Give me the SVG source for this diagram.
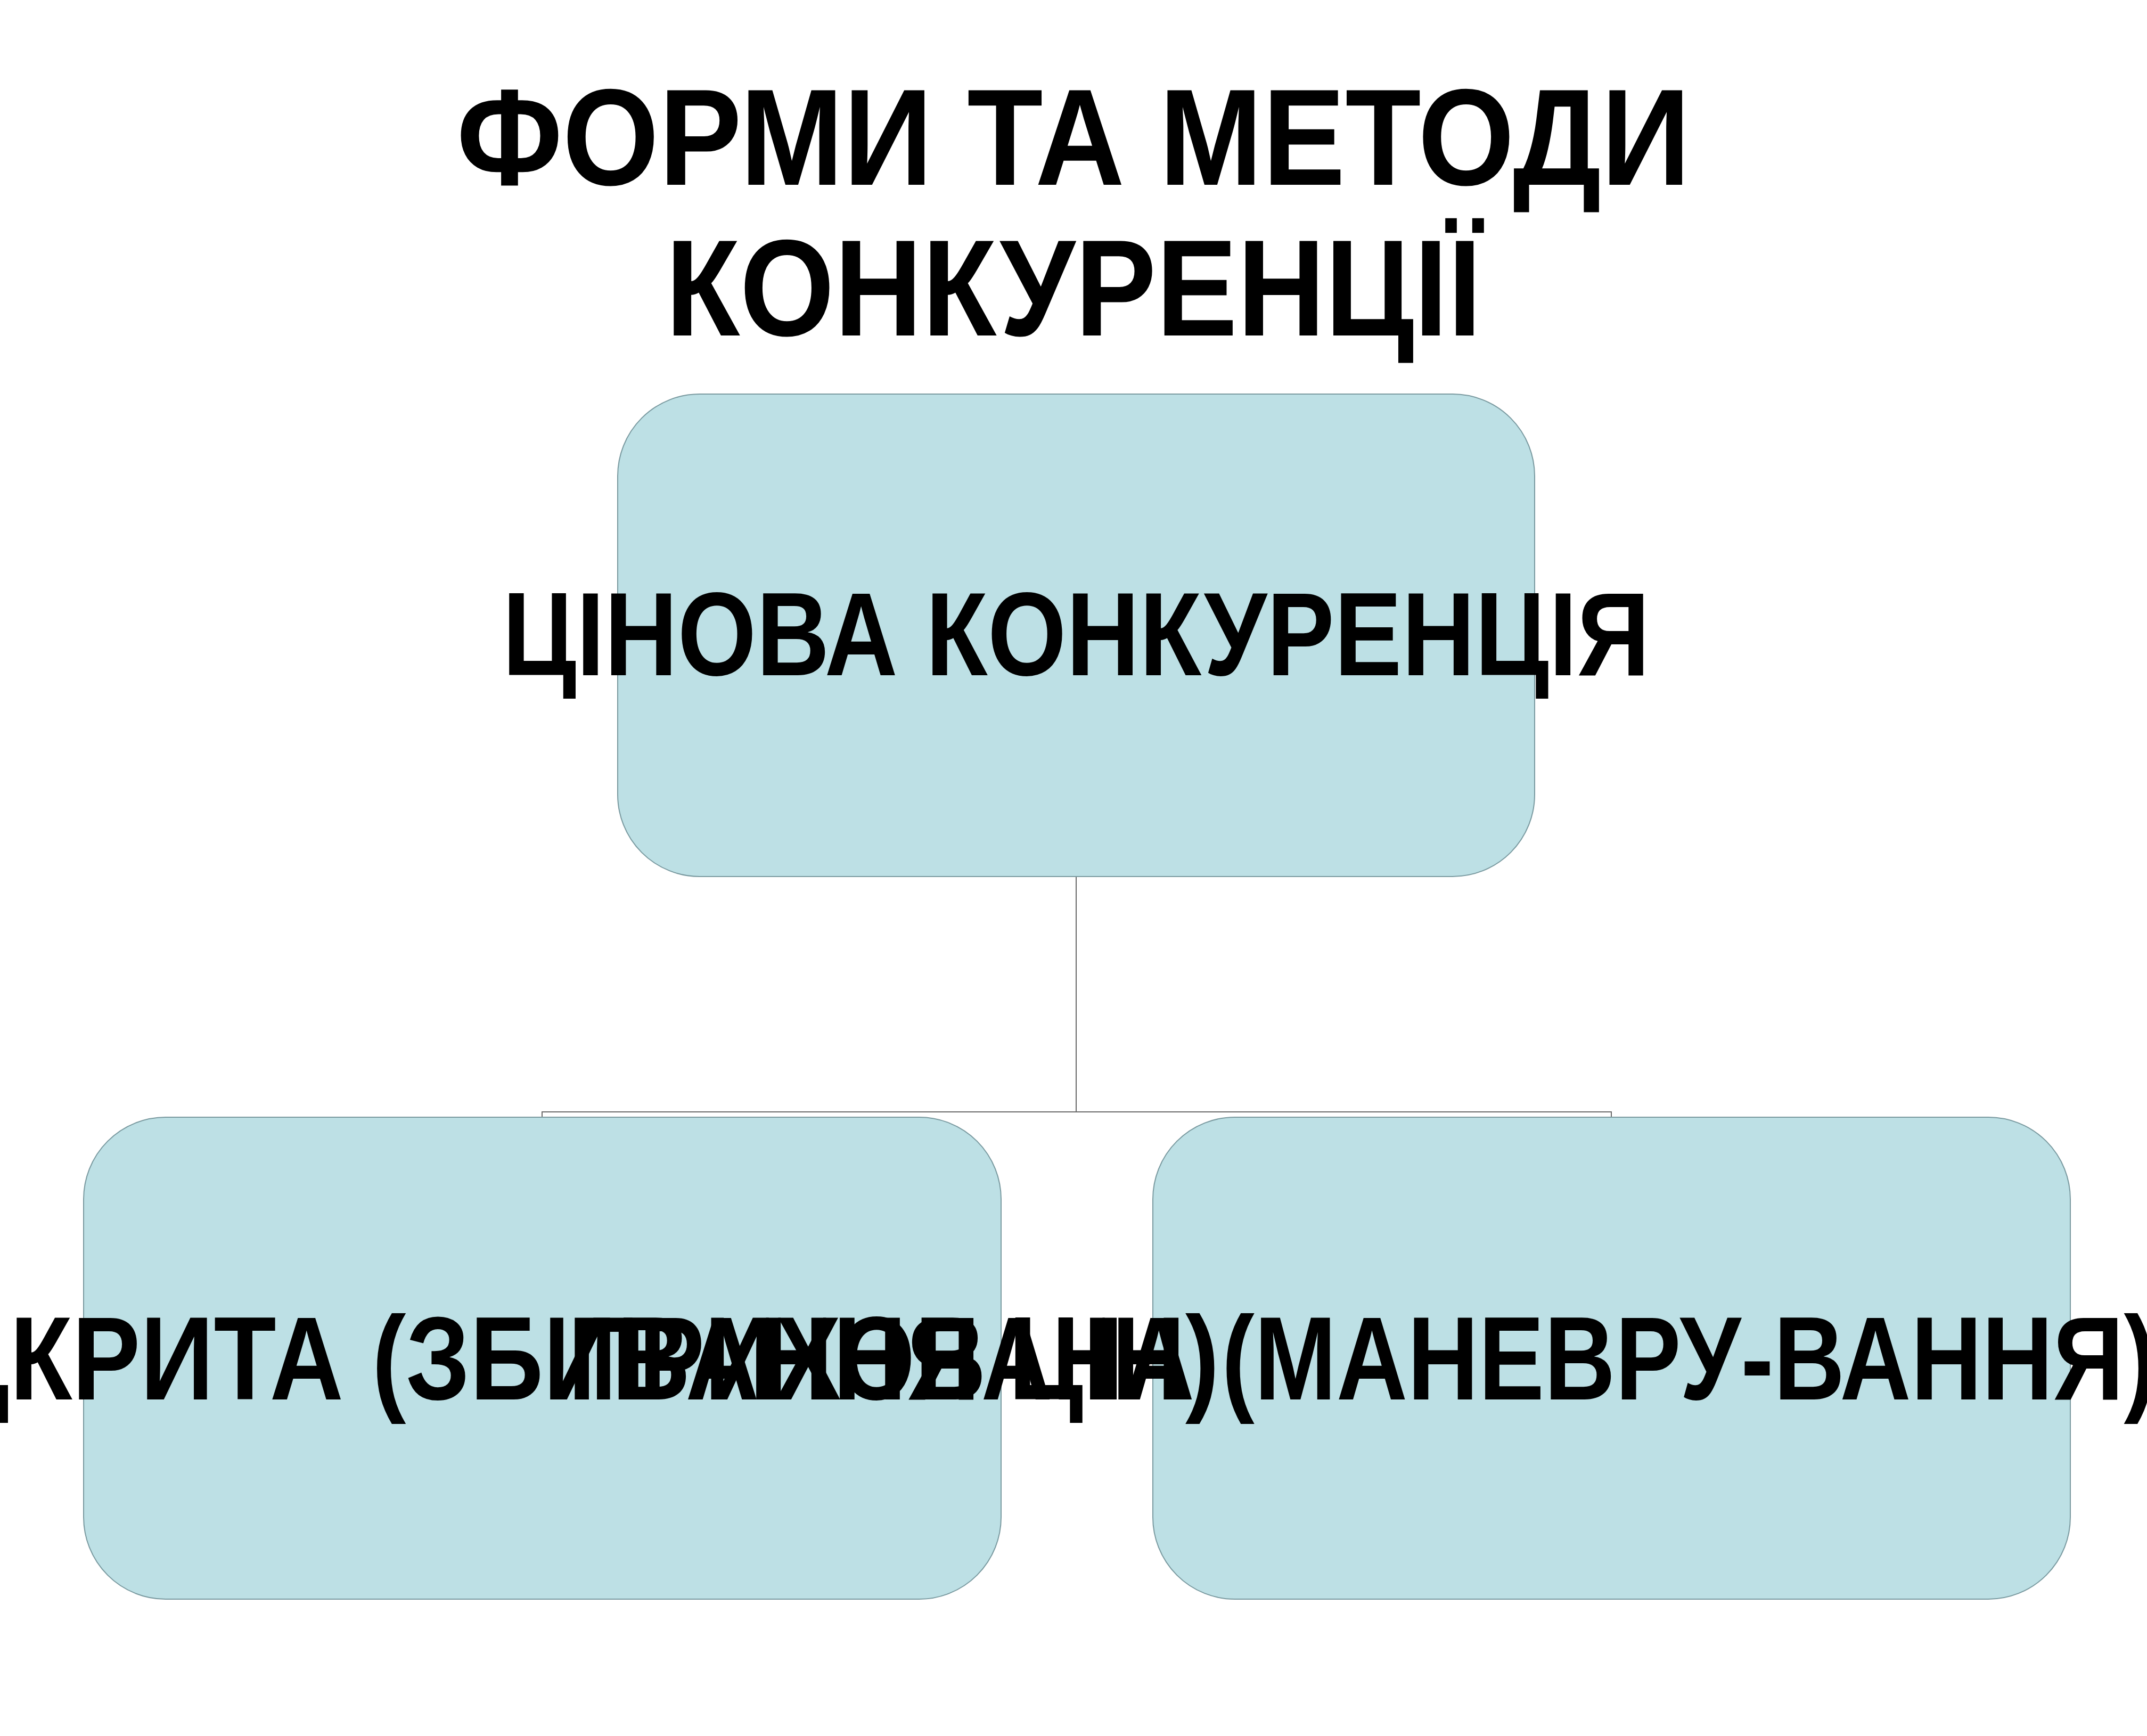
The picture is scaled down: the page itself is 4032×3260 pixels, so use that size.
<svg xmlns="http://www.w3.org/2000/svg" width="4032" height="3260" viewBox="0 0 4032 3260">
<style>
.box{fill:#bde0e5;stroke:#7a9aa0;stroke-width:2}
.t{font-family:"Liberation Sans",Arial,sans-serif;font-weight:bold;fill:#000;text-anchor:middle}
.s{text-anchor:start}
</style>
<rect width="4032" height="3260" fill="#fff"/>
<g id="title"><text class="t" x="2016" y="347" font-size="258" textLength="2317" lengthAdjust="spacingAndGlyphs">ФОРМИ ТА МЕТОДИ</text><text class="t" x="2016" y="630" font-size="258" textLength="1532" lengthAdjust="spacingAndGlyphs">КОНКУРЕНЦІЇ</text></g>
<g id="connectors" fill="none" stroke="#6a6a6a" stroke-width="2">
<path d="M2021 1646V2088M1018 2098V2088H3026V2098"/>
</g>
<g id="n1"><rect class="box" x="1160" y="740" width="1722" height="906" rx="154"/><text class="t" x="2021" y="1268" font-size="222" textLength="2155" lengthAdjust="spacingAndGlyphs">ЦІНОВА КОНКУРЕНЦІЯ</text></g>
<g id="n2"><rect class="box" x="157" y="2098" width="1723" height="905" rx="154"/></g>
<g id="n3"><rect class="box" x="2165" y="2098" width="1723" height="905" rx="154"/></g>
<text class="t s" x="-310" y="2628" font-size="222" textLength="2600" lengthAdjust="spacingAndGlyphs">ВІДКРИТА (ЗБИВАННЯ ЦІН)</text>
<text class="t s" x="1067" y="2628" font-size="222" textLength="2983" lengthAdjust="spacingAndGlyphs">ПРИХОВАНА (МАНЕВРУ-ВАННЯ)</text>
</svg>
